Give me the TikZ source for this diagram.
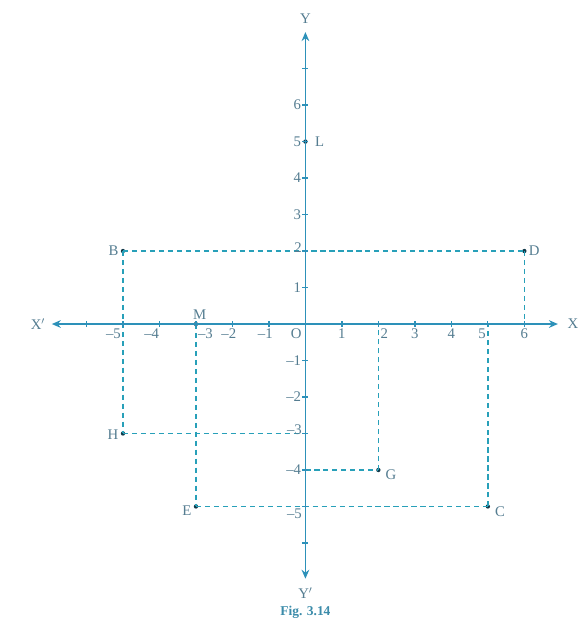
\documentclass[tikz,border=0pt]{standalone}
\usepackage{fontspec}
\setmainfont{Liberation Serif}
\usetikzlibrary{arrows.meta}
\definecolor{axc}{RGB}{45,145,185}
\definecolor{dsc}{RGB}{40,160,185}
\definecolor{txc}{RGB}{85,125,145}
\definecolor{figc}{RGB}{60,140,170}
\begin{document}
\begin{tikzpicture}[x=1cm,y=1cm,
  axisline/.style={draw=axc, line width=1.2pt},
  tipend/.style={-{Stealth[length=7pt,width=6pt]}},
  guide/.style={draw=dsc, dash pattern=on 4pt off 3pt, line width=1.1pt},
  lbl/.style={text=txc, font=\fontsize{11.5}{13}\selectfont, inner sep=1.5pt},
  tick/.style={draw=axc, line width=1pt},
  pt/.style={circle, fill=black!60!axc, inner sep=0pt, minimum size=3.4pt}]
\useasboundingbox (-8.37,-8.55) rectangle (7.60,8.88);

% axis ends
\coordinate (O) at (0,0);
\coordinate (xl) at (-6.95,0);
\coordinate (xr) at (6.92,0);
\coordinate (yt) at (0,8.0);
\coordinate (yb) at (0,-6.98);

% points
\node[pt] (B) at (-5,2) {};
\node[pt] (D) at (6,2) {};
\node[pt] (H) at (-5,-3) {};
\node[pt] (G) at (2,-4) {};
\node[pt] (E) at (-3,-5) {};
\node[pt] (C) at (5,-5) {};
\node[pt] (M) at (-3,0) {};
\node[pt] (L) at (0,5) {};

% foot points on axes
\coordinate (ym3) at (0,-3);
\coordinate (ym4) at (0,-4);
\coordinate (x6) at (6,0);
\coordinate (x5) at (5,0);
\coordinate (x2) at (2,0);

% dashed guides
\draw[guide] (B.center) -- (D.center);
\draw[guide] (B.center) -- (H.center);
\draw[guide] (D.center) -- (x6);
\draw[guide] (H.center) -- (ym3);
\draw[guide] (M.center) -- (E.center);
\draw[guide] (E.center) -- (C.center);
\draw[guide] (C.center) -- (x5);
\draw[guide] (ym4) -- (G.center);
\draw[guide] (G.center) -- (x2);

% axes
\draw[axisline, tipend] (O) -- (xr);
\draw[axisline, tipend] (O) -- (xl);
\draw[axisline, tipend] (O) -- (yt);
\draw[axisline, tipend] (O) -- (yb);

% ticks
\foreach \i in {-6,...,6} {\draw[tick] (\i,-0.08) -- (\i,0.08);}
\foreach \j in {-6,...,7} {\draw[tick] (-0.08,\j) -- (0.08,\j);}

% axis names
\node[lbl] (Xp) at (-7.33,0) {X$'$};
\node[lbl] (X) at (7.33,0) {X};
\node[lbl] (Y) at (0,8.38) {Y};
\node[lbl] (Yp) at (0,-7.38) {Y$'$};

% x tick labels
\node[lbl, anchor=north east] at (-5,-0.08) {–5};
\node[lbl, anchor=north east] at (-3.95,-0.08) {–4};
\node[lbl, anchor=north west] at (-3,-0.08) {–3};
\node[lbl, anchor=north] at (-2.1,-0.08) {–2};
\node[lbl, anchor=north] at (-1.1,-0.08) {–1};
\node[lbl, anchor=north] at (-0.25,-0.08) {O};
\node[lbl, anchor=north] at (1,-0.08) {1};
\node[lbl, anchor=north west] at (2,-0.08) {2};
\node[lbl, anchor=north] at (3,-0.08) {3};
\node[lbl, anchor=north] at (4,-0.08) {4};
\node[lbl, anchor=north east] at (5,-0.08) {5};
\node[lbl, anchor=north] at (6,-0.08) {6};

% y tick labels
\foreach \j in {1,3,4,5,6} {\node[lbl, anchor=east] at (-0.06,\j) {\j};}
\node[lbl, anchor=south east] at (-0.04,1.9) {2};
\node[lbl, anchor=east] at (-0.06,-1) {–1};
\node[lbl, anchor=east] at (-0.06,-2) {–2};
\node[lbl, anchor=south east] at (-0.04,-3.1) {–3};
\node[lbl, anchor=east] at (-0.06,-4) {–4};
\node[lbl, anchor=north east] at (-0.04,-5.0) {–5};

% point labels
\node[lbl, anchor=east] at (B.west) {B};
\node[lbl, anchor=west] at (D.east) {D};
\node[lbl, anchor=east] at ([yshift=-1pt]H.west) {H};
\node[lbl, anchor=west] at ([xshift=2pt,yshift=-4pt]G.east) {G};
\node[lbl, anchor=east] at ([yshift=-3pt]E.west) {E};
\node[lbl, anchor=west] at ([xshift=2pt,yshift=-4pt]C.east) {C};
\node[lbl, anchor=south] at ([xshift=3pt]M.north) {M};
\node[lbl, anchor=west] at ([xshift=4pt]L.east) {L};

\node[text=figc, font=\fontsize{10.5}{12}\selectfont\bfseries] (fig) at (0,-7.9) {Fig. 3.14};
\end{tikzpicture}
\end{document}
